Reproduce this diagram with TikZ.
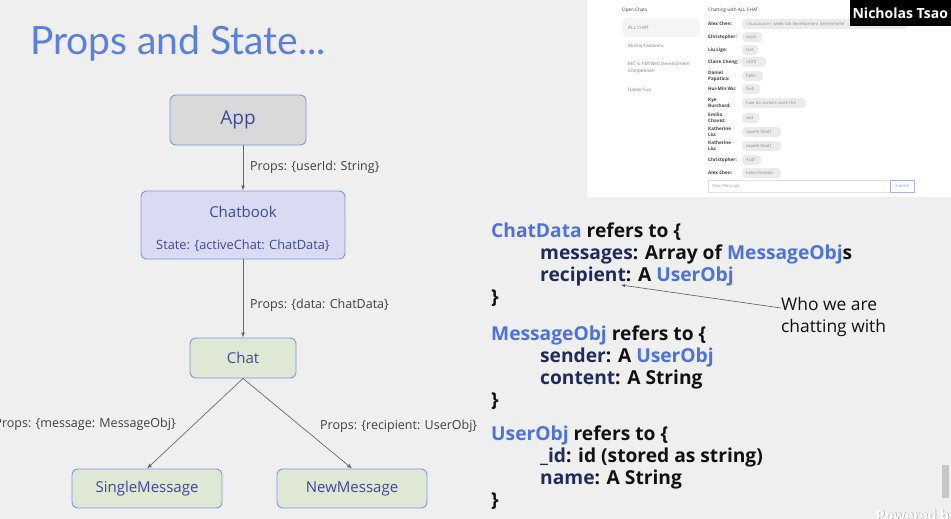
\documentclass[tikz,border=0pt]{standalone}
\usepackage{fontspec}
\setmainfont{Open Sans}
\newfontfamily\titlefont{Lato}
\usetikzlibrary{arrows.meta}
\usetikzlibrary{positioning}

\definecolor{slidebg}{HTML}{EFEFEF}
\definecolor{boxline}{HTML}{7D98E3}
\definecolor{boxtext}{HTML}{3C4A9E}
\definecolor{appfill}{HTML}{D9D9D9}
\definecolor{bookfill}{HTML}{DADAF3}
\definecolor{chatfill}{HTML}{DFE8D4}
\definecolor{typeblue}{HTML}{4C71E3}
\definecolor{fieldnavy}{HTML}{1F2B5E}
\definecolor{titleblue}{HTML}{5A7FE3}
\definecolor{propgray}{HTML}{404040}
\definecolor{flowgray}{HTML}{6A6A6A}
\definecolor{codeblack}{HTML}{111111}

\newcommand{\px}[2]{\fontsize{#1}{#2}\selectfont}
\newcommand{\typ}[1]{\textcolor{typeblue}{#1}}
\newcommand{\fld}[1]{\textcolor{fieldnavy}{#1}}

\tikzset{comp/.style = {draw=boxline, line width=0.9pt, rounded corners=6pt, text=boxtext, inner sep=0pt, font=\px{15}{18}}}
\tikzset{prop/.style = {text=propgray, inner sep=0pt, font=\px{12.5}{15}}}
\tikzset{flow/.style = {draw=flowgray, line width=0.7pt, -{Latex[length=5pt, width=4pt]}}}
\tikzset{codeline/.style = {anchor=base west, inner sep=0pt, text=codeblack, font=\px{19.2}{22}\bfseries}}
\tikzset{pointer/.style = {draw=black!65, line width=0.6pt, -{Latex[length=4pt, width=3pt]}}}
\tikzset{listitem/.style = {anchor=west, inner sep=0pt, align=left, text=black!50, font=\px{4.6}{6.5}}}
\tikzset{sender/.style = {anchor=west, inner sep=0pt, align=left, text=black!75, font=\px{4.6}{5.8}\bfseries}}
\tikzset{bubble/.style = {anchor=west, fill=black!8, rounded corners=4pt, inner xsep=4pt, inner ysep=0pt, minimum height=10pt, text=black!45, font=\px{4.2}{5}}}

\begin{document}
\begin{tikzpicture}[x=1pt, y=-1pt]

    \fill [slidebg] (0,0) rectangle (951,519);
    \useasboundingbox (0,0) rectangle (951,519);

    % screenshot of the chat page
    \fill [white] (587,0) rectangle (951,197);
    \node [listitem, text=black!75] (openchats) at (622,10) {Open Chats};
    \node [listitem, fill=black!4, rounded corners=5pt, text width=66pt, inner xsep=6pt, minimum height=19pt] (allchat) at (622,27.5) {ALL CHAT};
    \node [listitem] (akshaj) at (628,46) {Akshaj Kadaveru};
    \node [listitem] (webcomp) at (628,68) {MIT 6.148 Web Development\\Competition};
    \node [listitem] (daniel) at (628,90) {Daniel Sun};
    \node [listitem, text=black!75] (chatting) at (708,10) {Chatting with ALL CHAT};

    \foreach \n/\y/\name/\msg/\w in {
        1/24/{Alex Chen:}/{i huuuuuurrr weeb lab development hehehehehe}/158,
        2/37/{Christopher:}/{oooh}/12,
        3/50/{Liu Lige:}/{test}/8,
        4/62/{Claire Cheng:}/{catttt}/16,
        5/76/{Daniel\\Papatica:}/{hello}/13,
        6/89/{Hui-Min Wu:}/{0w0}/10,
        7/103/{Kye\\Burchard:}/{how do sockets work tho}/56,
        8/118/{Emilio\\Chavez:}/{sad}/9,
        9/132/{Katherine\\Liu:}/{sapefe bfadf}/31,
        10/146/{Katherine\\Liu:}/{sapefe bfadf}/31,
        11/160/{Christopher:}/{Asdf}/11,
        12/173/{Alex Chen:}/{hello friendos}/31}
    {
        \node [sender] (name\n) at (708,\y) {\name};
        \node [bubble, text width=\w pt, align=left] (msg\n) at (742,\y) {\msg};
    }

    \node [draw=black!12, anchor=north west, minimum height=12pt, text width=174pt, inner xsep=4pt, inner ysep=0pt, align=left, text=black!35, font=\px{4.2}{5}] (newmsg) at (708,180) {New Message};
    \node [draw=boxline!70, anchor=north west, minimum width=24pt, minimum height=12pt, inner sep=0pt, text=boxline, font=\px{4.2}{5}] (submit) at (890,180) {Submit};

    \node [fill=black, text=white, anchor=north east, minimum width=101pt, minimum height=26pt, inner sep=0pt, font=\px{14}{16}\bfseries] (speaker) at (951,0) {Nicholas Tsao};

    % title
    \node [anchor=base west, inner sep=0pt, text=titleblue, font=\titlefont\px{39}{45}] (title) at (30,55) {Props and State...};

    % component tree
    \node [comp, fill=appfill, minimum width=136pt, minimum height=50pt, font=\px{19}{22}] (app) at (238,120) {App};
    \node [comp, fill=bookfill, minimum width=204pt, minimum height=68pt, align=center] (chatbook) at (243,225) {\rule{0pt}{19pt}Chatbook\\[14pt]{\px{12.8}{15}State: \{activeChat: ChatData\}}};
    \node [comp, fill=chatfill, minimum width=106pt, minimum height=40pt] (chat) at (243,358) {Chat};
    \node [comp, fill=chatfill, minimum width=150pt, minimum height=39pt] (single) at (147,488.5) {SingleMessage};
    \node [comp, fill=chatfill, minimum width=150pt, minimum height=39pt] (new) at (352,488.5) {NewMessage};

    \draw [flow] (chatbook.north |- app.south) -- (chatbook.north);
    \draw [flow] (chatbook.south) -- (chat.north);
    \draw [flow] (chat.south) -- (single.north);
    \draw [flow] (chat.south) -- (new.north);

    \node [prop, anchor=west] (userid) at (250,167) {Props: \{userId: String\}};
    \node [prop, anchor=west] (data) at (250,305) {Props: \{data: ChatData\}};
    \node [prop, anchor=east] (message) at (176,424) {Props: \{message: MessageObj\}};
    \node [prop, anchor=west] (recip) at (320,426) {Props: \{recipient: UserObj\}};

    % data shapes
    \node [codeline] (chatdata) at (491,237) {\typ{ChatData} refers to \{};
    \node [codeline] (messages) at (540,259) {\fld{messages}: Array of \typ{MessageObj}s};
    \node [codeline] (recipient) at (540,281) {\fld{recipient}: A \typ{UserObj}};
    \node [codeline] (chatdataend) at (491,303) {\}};

    \node [codeline] (messageobj) at (491,340) {\typ{MessageObj} refers to \{};
    \node [codeline] (sender) at (540,362) {\fld{sender}: A \typ{UserObj}};
    \node [codeline] (content) at (540,384) {\fld{content}: A String};
    \node [codeline] (messageobjend) at (491,406) {\}};

    \node [codeline] (userobj) at (491,440.5) {\typ{UserObj} refers to \{};
    \node [codeline] (id) at (540,462.5) {\fld{\_id}: id (stored as string)};
    \node [codeline] (name) at (540,484.5) {\fld{name}: A String};
    \node [codeline] (userobjend) at (491,506.5) {\}};

    \node [anchor=west, inner sep=0pt, align=left, text=codeblack, font=\px{17.4}{22}] (who) at (781,317) {Who we are\\chatting with};
    \coordinate (colon) at (621,285);
    \draw [pointer] ([yshift=9pt]who.west) -- (colon);

    % player overlay
    \fill [black!22] (942,465) rectangle (949,498);
    \node [anchor=base west, inner sep=0pt, text=black!35, font=\px{14}{16}\bfseries] (poweredshade) at (876.7,520.7) {Powered b};
    \node [anchor=base west, inner sep=0pt, text=white, font=\px{14}{16}\bfseries] (powered) at (876,520) {Powered b};
\end{tikzpicture}
\end{document}
